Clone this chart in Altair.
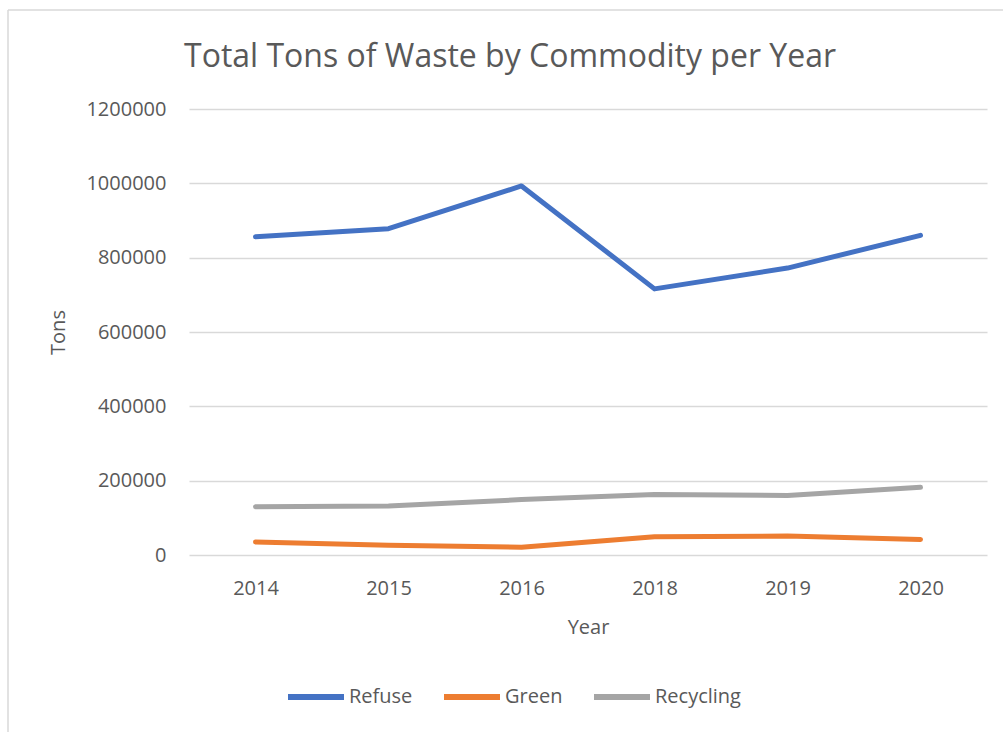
import altair as alt
import pandas as pd

years = ["2014", "2015", "2016", "2018", "2019", "2020"]
refuse = [856000, 878000, 993000, 716000, 772000, 860000]
green = [35000, 26000, 21000, 49000, 51000, 42000]
recycling = [130000, 132000, 149000, 163000, 160000, 182000]

series_names = ["Refuse", "Green", "Recycling"]
series_colors = ["#4472C4", "#ED7D31", "#A5A5A5"]

rows = []
for name, vals in zip(series_names, [refuse, green, recycling]):
    for y, v in zip(years, vals):
        rows.append({"Year": y, "Tons": v, "Commodity": name})
df = pd.DataFrame(rows)

FONT = "Open Sans"
TXT = "#595959"

lines = alt.Chart(df).mark_line(strokeWidth=5, strokeCap="round", strokeJoin="round").encode(
    x=alt.X("Year:O", sort=years,
            scale=alt.Scale(type="point", padding=0.5),
            axis=alt.Axis(title="Year", labelAngle=0, domain=False, ticks=False,
                          labelPadding=23, titleY=72, titleBaseline="middle")),
    y=alt.Y("Tons:Q", scale=alt.Scale(domain=[0, 1200000], nice=False),
            axis=alt.Axis(title="Tons", values=[0, 200000, 400000, 600000, 800000, 1000000, 1200000],
                          format="d", domain=False, ticks=False, labelPadding=23,
                          titleX=-131, titleY=223, titleAngle=-90, titleBaseline="middle",
                          titleAlign="center")),
    color=alt.Color("Commodity:N",
                    scale=alt.Scale(domain=series_names, range=series_colors),
                    legend=alt.Legend(title=None, orient="none", direction="horizontal",
                                      legendX=96, legendY=557, symbolType="stroke",
                                      symbolSize=3136, symbolStrokeWidth=6,
                                      labelOffset=2, columnPadding=19)),
)

border_df = pd.DataFrame({"k": [0]})
top_border = alt.Chart(border_df).mark_rule(color="#D9D9D9", strokeWidth=1.5).encode(
    x=alt.value(-181), x2=alt.value(814), y=alt.value(-99))
left_border = alt.Chart(border_df).mark_rule(color="#D9D9D9", strokeWidth=1.5).encode(
    x=alt.value(-181), y=alt.value(-99), y2=alt.value(623))

chart = alt.layer(top_border, left_border, lines).properties(
    width=798, height=446,
    title=alt.TitleParams("Total Tons of Waste by Commodity per Year", dx=-78, dy=99),
    autosize=alt.AutoSizeParams(type="none"),
    padding={"left": 189, "top": 109, "right": 16, "bottom": 177},
).configure(font=FONT).configure_view(stroke=None).configure_axis(
    labelFont=FONT, titleFont=FONT, labelFontSize=20, titleFontSize=20,
    labelColor=TXT, titleColor=TXT, titleFontWeight="normal",
    gridColor="#D9D9D9", gridWidth=1.3,
).configure_legend(
    labelFont=FONT, labelFontSize=20, labelColor=TXT,
).configure_title(
    font=FONT, fontSize=32, fontWeight="normal", color=TXT, anchor="middle", offset=34,
)

chart.save("out.html", embed_options={"renderer": "svg", "actions": False})
